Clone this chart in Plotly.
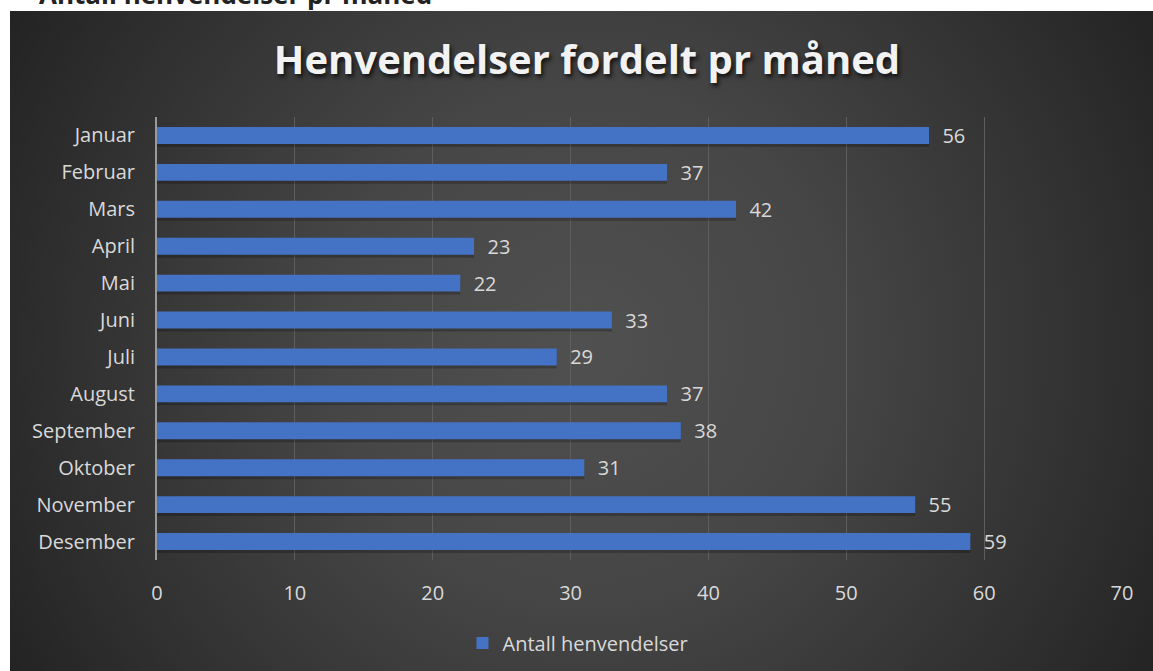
import base64
import plotly.graph_objects as go

months = ["Januar", "Februar", "Mars", "April", "Mai", "Juni", "Juli",
          "August", "September", "Oktober", "November", "Desember"]
values = [56, 37, 42, 23, 22, 33, 29, 37, 38, 31, 55, 59]
series_name = "Antall henvendelser"
title_text = "Henvendelser fordelt pr måned"
top_text = "Antall henvendelser pr måned"
x_ticks = [0, 10, 20, 30, 40, 50, 60, 70]

W, H = 1153, 671
L, R, T, B = 157, 31, 117, 111
pw, ph = W - L - R, H - T - B

def px_x(px):
    return (px - L) / pw

def px_y(py):
    return (H - B - py) / ph

svg = f'''<svg xmlns="http://www.w3.org/2000/svg" width="1143" height="670" viewBox="0 0 1143 670" preserveAspectRatio="none">
<defs><radialGradient id="g" gradientUnits="userSpaceOnUse" cx="575" cy="335" r="720">
<stop offset="0" stop-color="#505050"/><stop offset="0.35" stop-color="#464646"/>
<stop offset="0.75" stop-color="#2e2e2e"/><stop offset="1" stop-color="#1e1e1e"/></radialGradient></defs>
<rect width="1143" height="670" fill="url(#g)"/></svg>'''
src = "data:image/svg+xml;base64," + base64.b64encode(svg.encode()).decode()

fig = go.Figure()
# soft shadow under each bar
fig.add_trace(go.Bar(
    y=months, x=values, orientation="h", showlegend=False, hoverinfo="skip",
    marker=dict(color="rgba(0,0,0,0.22)", line=dict(width=0)),
    width=0.46, offset=-0.23 + 0.08,
))
fig.add_trace(go.Bar(
    y=months, x=values, orientation="h", name=series_name,
    marker=dict(color="#4472C4", line=dict(width=0)),
    width=0.46, offset=-0.23,
    text=["\u00a0\u00a0" + str(v) for v in values], textposition="outside",
    constraintext="none",
    textfont=dict(color="#d9d9d9", size=20, family="Open Sans"),
    cliponaxis=False,
))

fig.update_layout(
    width=W, height=H, autosize=False,
    barmode="overlay",
    margin=dict(l=L, r=R, t=T, b=B, autoexpand=False),
    paper_bgcolor="white",
    plot_bgcolor="rgba(0,0,0,0)",
    font=dict(family="Open Sans", color="#d9d9d9", size=20),
    title=dict(text=title_text, x=587 / W, y=1 - 60 / H, xref="container", yref="container",
               xanchor="center", yanchor="middle",
               font=dict(family="Open Sans", size=40, color="#f2f2f2",
                         weight="bold", shadow="2px 3px 4px #111")),
    xaxis=dict(range=[0, 70], tickvals=x_ticks, showgrid=True, gridcolor="#5e5e5e",
               gridwidth=1, zeroline=False, showline=False, ticks="", automargin=False,
               ticklabelstandoff=19, tickfont=dict(size=20, color="#d9d9d9")),
    yaxis=dict(autorange="reversed", showgrid=False, showline=True, linecolor="#9a9a9a",
               linewidth=2, ticks="", ticklabelstandoff=16, automargin=False,
               tickfont=dict(size=20, color="#d9d9d9")),
    showlegend=True,
    legend=dict(x=px_x(578), y=px_y(643), xanchor="center", yanchor="middle",
                orientation="h", font=dict(size=20, color="#d9d9d9"),
                bgcolor="rgba(0,0,0,0)", itemwidth=30),
    images=[dict(source=src, xref="paper", yref="paper", x=px_x(10), y=px_y(11),
                 sizex=(W - 10) / pw, sizey=(H - 11 + 10) / ph, xanchor="left", yanchor="top",
                 sizing="stretch", layer="below")],
    annotations=[dict(text="<b>" + top_text + "</b>", xref="paper", yref="paper",
                      x=px_x(38), y=px_y(12.5), xanchor="left", yanchor="bottom",
                      showarrow=False, borderpad=0,
                      font=dict(family="Open Sans", size=26, color="#222222"))],
)

fig.write_html("out.html", config={"displayModeBar": False, "responsive": False},
               post_script="document.body.style.margin='0';")
